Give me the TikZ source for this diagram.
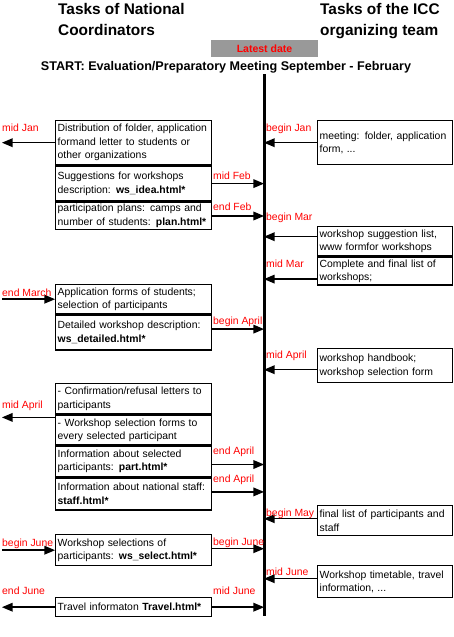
\documentclass[tikz,border=0pt]{standalone}
\usepackage{fontspec}
\setmainfont{Liberation Sans}
\usetikzlibrary{arrows,positioning}
\newcommand\bxfont{\fontsize{10.4}{13.5}\selectfont}
\tikzset{
         box/.style={draw,line width=1.4pt,anchor=north west,align=left,inner xsep=2pt,inner ysep=0pt,font=\bxfont},
         lbox/.style={box,text width=152pt,minimum height=#1},
         rbox/.style={box,text width=131pt,minimum height=#1},
         arr/.style={line width=1.5pt,-triangle 45},
         month/.style={text=red,anchor=west,inner sep=0pt,font=\bxfont},
         title/.style={anchor=north west,align=left,inner sep=0pt,font=\fontsize{15.4}{21}\selectfont\bfseries}
        }
\begin{document}
\begin{tikzpicture}[x=1pt,y=-1pt]
\useasboundingbox(0,0)rectangle(453,637);
%head
\node(ttlnc)[title]at(58,3){Tasks of National\\Coordinators};
\node(ttlicc)[title]at(320,3){Tasks of the ICC\\organizing team};
\node(latest)[fill=black!40,minimum width=107pt,minimum height=17pt,inner sep=0pt,text=red,font=\fontsize{10.5}{12}\selectfont\bfseries]at(264.5,48.5){Latest date};
\node(start)[inner sep=0pt,font=\fontsize{12.6}{14}\selectfont\bfseries]at(226,67){START: Evaluation/Preparatory Meeting September - February};
\coordinate(ttop)at(264,74);
\coordinate(tbot)at(264,616);
\coordinate(lm)at(2,0);
\draw[line width=3pt](ttop)--(tbot);
%national coordinators
\node(nc1)[lbox=44pt]at(55,120){Distribution of folder, application\\formand letter to students or\\other organizations};
\node(nc2)[lbox=35pt,below=0pt of nc1]{Suggestions for workshops\\description: \textbf{ws\_idea.html*}};
\node(nc3)[lbox=27pt,below=0pt of nc2]{participation plans: camps and\\number of students: \textbf{plan.html*}};
\node(nc4)[lbox=29pt]at(55,284){Application forms of students;\\selection of participants};
\node(nc5)[lbox=35pt,below=0pt of nc4]{Detailed workshop description:\\\textbf{ws\_detailed.html*}};
\node(nc6)[lbox=30pt]at(55,383){- Confirmation/refusal letters to\\participants};
\node(nc7)[lbox=30pt,below=0pt of nc6]{- Workshop selection forms to\\every selected participant};
\node(nc8)[lbox=30pt,below=0pt of nc7]{Information about selected\\participants: \textbf{part.html*}};
\node(nc9)[lbox=32pt,below=0pt of nc8]{Information about national staff:\\\textbf{staff.html*}};
\node(nc10)[lbox=31pt]at(55,534){Workshop selections of\\participants: \textbf{ws\_select.html*}};
\node(nc11)[lbox=19pt]at(55,597){Travel informaton \textbf{Travel.html*}};
%icc team
\node(icc1)[rbox=44pt]at(317,120){meeting: folder, application\\form, ...};
\node(icc2)[rbox=29pt]at(317,226){workshop suggestion list,\\www formfor workshops};
\node(icc3)[rbox=28pt,below=0pt of icc2]{Complete and final list of\\workshops;};
\node(icc4)[rbox=34pt]at(317,348){workshop handbook;\\workshop selection form};
\node(icc5)[rbox=30pt]at(317,505){final list of participants and\\staff};
\node(icc6)[rbox=32pt]at(317,565){Workshop timetable, travel\\information, ...};
%arrows
\draw[arr](nc1.west)--(nc1.west -| lm);
\draw[arr](nc2.east)--(nc2.east -| ttop);
\draw[arr](nc3.east)--(nc3.east -| ttop);
\draw[arr](nc4.west -| lm)--(nc4.west);
\draw[arr]([yshift=3.5pt]nc5.east)--([yshift=3.5pt]nc5.east -| ttop);
\draw[arr]([yshift=-3pt]nc7.north west)--([yshift=-3pt]nc7.north west -| lm);
\draw[arr]([yshift=-3pt]nc8.east)--([yshift=-3pt]nc8.east -| ttop);
\draw[arr]([yshift=2pt]nc9.east)--([yshift=2pt]nc9.east -| ttop);
\draw[arr](nc10.west -| lm)--(nc10.west);
\draw[arr]([yshift=1.5pt]nc10.east)--([yshift=1.5pt]nc10.east -| ttop);
\draw[arr](nc11.west)--(nc11.west -| lm);
\draw[arr](nc11.east)--(nc11.east -| ttop);
\draw[arr](icc1.west)--(icc1.west -| ttop);
\draw[arr]([yshift=4.5pt]icc2.west)--([yshift=4.5pt]icc2.west -| ttop);
\draw[arr]([yshift=-8pt]icc3.west)--([yshift=-8pt]icc3.west -| ttop);
\draw[arr]([yshift=-4pt]icc4.west)--([yshift=-4pt]icc4.west -| ttop);
\draw[arr]([yshift=2pt]icc5.west)--([yshift=2pt]icc5.west -| ttop);
\draw[arr]([yshift=3pt]icc6.west)--([yshift=3pt]icc6.west -| ttop);
%labels
\node(ljan)[month]at(2,128){mid Jan};
\node(lmar)[month]at(2,293){end March};
\node(lapr)[month]at(2,406){mid April};
\node(ljun)[month]at(2,544){begin June};
\node(ljun2)[month]at(2,591){end June};
\node(mfeb)[month]at(213,176){mid Feb};
\node(mfeb2)[month]at(213,207){end Feb};
\node(mapr)[month]at(213,322){begin April};
\node(mapr2)[month]at(213,452){end April};
\node(mapr3)[month]at(213,480){end April};
\node(mjun)[month]at(213,543){begin June};
\node(mjun2)[month]at(213,591){mid June};
\node(rjan)[month]at(266,129){begin Jan};
\node(rmar)[month]at(266,218){begin Mar};
\node(rmar2)[month]at(266,264){mid Mar};
\node(rapr)[month]at(266,356){mid April};
\node(rmay)[month]at(266,514){begin May};
\node(rjun)[month]at(266,572){mid June};
\end{tikzpicture}
\end{document}
